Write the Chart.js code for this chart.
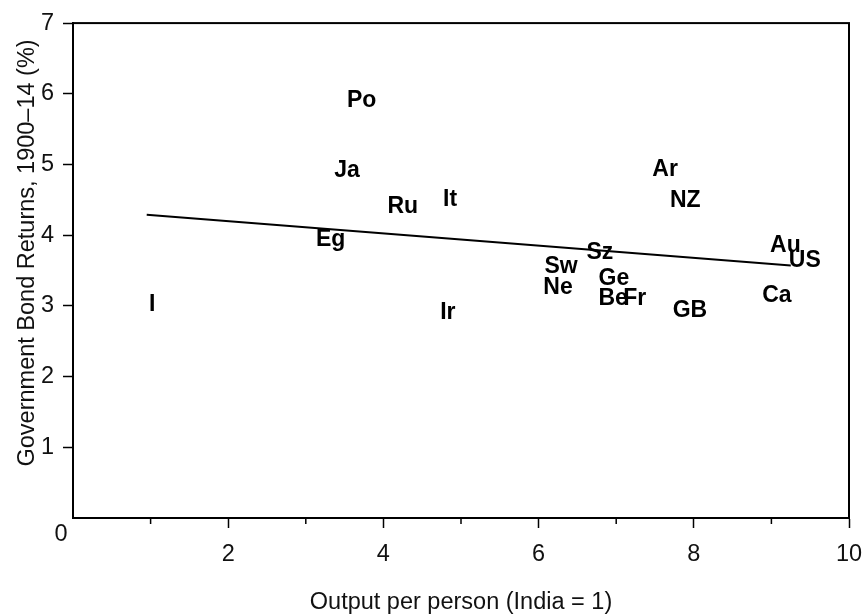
<!DOCTYPE html>
<html>
<head>
<meta charset="utf-8">
<script src="https://cdn.jsdelivr.net/npm/chart.js@4.4.1/dist/chart.umd.min.js"></script>
<style>
  html, body { margin: 0; padding: 0; background: #fff; }
  #wrap { width: 864px; height: 614px; }
</style>
</head>
<body>
<div id="wrap"><canvas id="bondChart"></canvas></div>
<script>
// Country codes and their values
const countries = ['I', 'Eg', 'Ja', 'Po', 'Ru', 'It', 'Ir', 'Sw', 'Ne', 'Sz', 'Ge', 'Be', 'Fr', 'GB', 'Ar', 'NZ', 'Ca', 'Au', 'US'];
const outputPerPerson = [1.02, 3.32, 3.53, 3.72, 4.25, 4.86, 4.83, 6.29, 6.25, 6.79, 6.97, 6.96, 7.24, 7.95, 7.63, 7.89, 9.07, 9.18, 9.43];
const bondReturns = [3.02, 3.94, 4.91, 5.90, 4.41, 4.50, 2.91, 3.55, 3.26, 3.75, 3.39, 3.10, 3.10, 2.93, 4.92, 4.49, 3.15, 3.85, 3.64];

// Fitted line end points
const fitX = [0.95, 9.25];
const fitY = [4.29, 3.57];

// Axis ticks
const xTicks = [2, 4, 6, 8, 10];
const xMinorTicks = [1, 3, 5, 7, 9];
const yTicks = [1, 2, 3, 4, 5, 6, 7];

const FONT = "'Liberation Sans', Arial, Helvetica, sans-serif";

// Draws the frame, minor ticks, the corner "0" and the country codes
const labelPlugin = {
    id: 'labelPlugin',
    afterDraw(chart) {
        const { ctx, chartArea: a, scales: { x, y } } = chart;
        ctx.save();
        ctx.strokeStyle = '#000';
        ctx.lineWidth = 2;
        ctx.strokeRect(a.left, a.top, a.right - a.left, a.bottom - a.top);

        ctx.lineWidth = 1.5;
        xMinorTicks.forEach(v => {
            const px = x.getPixelForValue(v);
            ctx.beginPath();
            ctx.moveTo(px, a.bottom);
            ctx.lineTo(px, a.bottom + 6);
            ctx.stroke();
        });

        ctx.fillStyle = '#111';
        ctx.textAlign = 'center';
        ctx.textBaseline = 'middle';
        ctx.font = '23.5px ' + FONT;
        ctx.fillText('0', x.getPixelForValue(0) - 12, y.getPixelForValue(0) + 17);

        ctx.fillStyle = '#000';
        ctx.font = 'bold 23px ' + FONT;
        const meta = chart.getDatasetMeta(1);
        meta.data.forEach((pt, i) => {
            ctx.fillText(countries[i], pt.x, pt.y);
        });
        ctx.restore();
    }
};

const ctx = document.getElementById('bondChart');

new Chart(ctx, {
    type: 'scatter',
    data: {
        datasets: [
            {
                type: 'line',
                data: fitX.map((v, i) => ({ x: v, y: fitY[i] })),
                borderColor: '#000',
                borderWidth: 2,
                pointRadius: 0,
                fill: false
            },
            {
                data: outputPerPerson.map((v, i) => ({ x: v, y: bondReturns[i] })),
                pointRadius: 0,
                backgroundColor: 'rgba(0,0,0,0)'
            }
        ]
    },
    options: {
        responsive: true,
        maintainAspectRatio: false,
        animation: false,
        layout: { padding: { top: 22, right: 0, bottom: 0, left: 0 } },
        plugins: {
            legend: { display: false },
            tooltip: { enabled: false }
        },
        scales: {
            x: {
                type: 'linear',
                min: 0,
                max: 10,
                afterBuildTicks: s => { s.ticks = xTicks.map(v => ({ value: v })); },
                afterFit: s => {
                    s.height = 96;
                    s.paddingLeft = 0;
                    s.paddingRight = 15;
                },
                grid: { drawOnChartArea: false, drawTicks: true, tickLength: 10, tickColor: '#000', tickWidth: 1.5 },
                border: { display: true, color: '#000', width: 2 },
                ticks: { color: '#111', padding: 12, maxRotation: 0, font: { family: FONT, size: 23.5 } },
                title: {
                    display: true,
                    text: 'Output per person (India = 1)',
                    color: '#111',
                    padding: { top: 0, bottom: 0 },
                    font: { family: FONT, size: 23.5, lineHeight: 1.0 }
                }
            },
            y: {
                type: 'linear',
                min: 0,
                max: 7,
                afterBuildTicks: s => { s.ticks = yTicks.map(v => ({ value: v })); },
                afterFit: s => { s.width = 73; },
                grid: { drawOnChartArea: false, drawTicks: true, tickLength: 10, tickColor: '#000', tickWidth: 1.5 },
                border: { display: true, color: '#000', width: 2 },
                ticks: { color: '#111', padding: 9, font: { family: FONT, size: 23.5 } },
                title: {
                    display: true,
                    text: '\u2002\u2002\u2002Government Bond Returns, 1900\u201314 (%)',
                    color: '#111',
                    padding: { top: 16, bottom: 0 },
                    font: { family: FONT, size: 23.5, lineHeight: 1.0 }
                }
            }
        }
    },
    plugins: [labelPlugin]
});
</script>
</body>
</html>
